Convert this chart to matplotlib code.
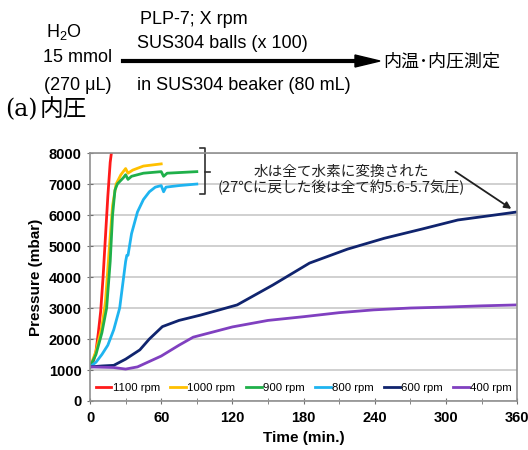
import matplotlib.pyplot as plt
import numpy as np

plt.rcParams['font.family'] = ['Liberation Sans', 'Noto Sans CJK JP', 'DejaVu Sans']
plt.rcParams['mathtext.fontset'] = 'custom'
plt.rcParams['mathtext.rm'] = 'Liberation Sans'

# series (time in min, pressure in mbar)
t_1100 = [0, 3, 5, 7, 9, 11, 13, 15, 17, 18]
p_1100 = [1100, 1300, 1600, 2200, 2900, 4000, 5300, 6600, 7700, 8000]

t_1000 = [0, 5, 10, 13, 16, 19, 22, 26, 30, 32, 36, 45, 60]
p_1000 = [1100, 1600, 2400, 3200, 4800, 6300, 7000, 7300, 7500, 7350, 7450, 7580, 7650]

t_900 = [0, 5, 10, 14, 17, 19, 21, 23, 28, 30, 32, 35, 45, 60, 62, 65, 90]
p_900 = [1100, 1500, 2200, 3000, 4500, 6000, 6800, 7000, 7200, 7300, 7150, 7250, 7350, 7400, 7250, 7350, 7400]

t_800 = [0, 5, 10, 15, 20, 25, 28, 30, 31, 32, 35, 40, 45, 50, 55, 60, 62, 64, 75, 90]
p_800 = [1100, 1250, 1500, 1800, 2300, 3000, 3900, 4500, 4700, 4700, 5400, 6100, 6500, 6750, 6900, 6950, 6750, 6900, 6950, 7000]

t_600 = [0, 10, 20, 30, 42, 50, 61, 75, 93, 110, 124, 154, 185, 217, 248, 280, 310, 341, 360]
p_600 = [1100, 1130, 1150, 1350, 1650, 2000, 2400, 2600, 2770, 2950, 3100, 3740, 4450, 4900, 5250, 5550, 5840, 6000, 6100]

t_400 = [0, 20, 30, 40, 60, 75, 87, 120, 150, 180, 210, 239, 270, 300, 330, 360]
p_400 = [1100, 1080, 1030, 1100, 1450, 1800, 2060, 2390, 2600, 2720, 2850, 2940, 3000, 3030, 3070, 3100]

labels = ['1100 rpm', '1000 rpm', '900 rpm', '800 rpm', '600 rpm', '400 rpm']
colors = ['#ff1a1a', '#ffc000', '#1fb04a', '#1eb4f0', '#10246e', '#8040c0']
series = [(t_1100, p_1100), (t_1000, p_1000), (t_900, p_900),
          (t_800, p_800), (t_600, p_600), (t_400, p_400)]

fig = plt.figure(figsize=(5.28, 4.5), dpi=100)
ax = fig.add_axes([0.1705, 0.1089, 0.809, 0.551])

for (t, p), lab, col in zip(series, labels, colors):
    ax.plot(t, p, color=col, lw=2, label=lab)

ax.set_xlim(0, 360)
ax.set_ylim(0, 8000)
ax.set_xticks(np.arange(0, 361, 60))
ax.set_xticks(np.arange(30, 360, 60), minor=True)
ax.set_yticks(np.arange(0, 8001, 1000))
ax.yaxis.grid(True, color='#c8c8c8', lw=1.2)
ax.set_axisbelow(True)
for s in ax.spines.values():
    s.set_color('#909090')
    s.set_linewidth(1.2)
ax.tick_params(axis='both', which='both', color='#707070', direction='inout', length=5)
ax.tick_params(axis='both', labelsize=10.5)
ax.tick_params(axis='x', pad=5)
for lab in ax.get_xticklabels() + ax.get_yticklabels():
    lab.set_fontweight('bold')
ax.set_xlabel('Time (min.)', fontsize=11, fontweight='bold', labelpad=4)
ax.set_ylabel('Pressure (mbar)', fontsize=11, fontweight='bold', labelpad=4)

ax.legend(loc='lower center', bbox_to_anchor=(0.5, 0.0), ncol=6, frameon=False,
          fontsize=8.2, handlelength=1.4, handletextpad=0.1, columnspacing=0.9,
          borderaxespad=0.3)

# bracket next to the plateaus
ax.plot([92.7, 97, 97, 92.7], [8160, 8160, 6680, 6680], color='#303030', lw=1.2, clip_on=False)
ax.plot([97, 101], [7390, 7390], color='#303030', lw=1.2, clip_on=False)

ax.text(212, 7400, '水は全て水素に変換された', ha='center', va='center', fontsize=10.5,
        family=['Noto Sans CJK JP'], color='#202020')
ax.text(212, 6880, '(27℃に戻した後は全て約5.6-5.7気圧)', ha='center', va='center', fontsize=10.5,
        family=['Noto Sans CJK JP', 'DejaVu Sans'], color='#202020')
ax.annotate('', xy=(357, 6150), xytext=(306, 7450),
            arrowprops=dict(arrowstyle='-|>', color='#202020', lw=1.3, mutation_scale=10))

# reaction scheme header
fig.text(64 / 528, 1 - 32 / 450, r'H$_\mathregular{2}$O', ha='center', va='center', fontsize=13)
fig.text(78 / 528, 1 - 58 / 450, '15 mmol', ha='center', va='center', fontsize=13)
fig.text(78 / 528, 1 - 86 / 450, '(270 μL)', ha='center', va='center', fontsize=13)
fig.text(140 / 528, 1 - 20 / 450, 'PLP-7; X rpm', ha='left', va='center', fontsize=13)
fig.text(137 / 528, 1 - 43 / 450, 'SUS304 balls (x 100)', ha='left', va='center', fontsize=13)
fig.text(137 / 528, 1 - 85 / 450, 'in SUS304 beaker (80 mL)', ha='left', va='center', fontsize=13)
fig.add_artist(plt.Line2D([123 / 528, 360 / 528], [1 - 61 / 450, 1 - 61 / 450], color='black', lw=3))
fig.patches.append(plt.Polygon([[355 / 528, 1 - 55 / 450], [380 / 528, 1 - 61 / 450], [355 / 528, 1 - 67 / 450]],
                               closed=True, color='black', transform=fig.transFigure))
fig.text(383 / 528, 1 - 61 / 450, '内温･内圧測定', ha='left', va='center', fontsize=13,
         family=['Noto Sans CJK JP', 'DejaVu Sans'])
fig.text(5 / 528, 1 - 110 / 450, '(a)', ha='left', va='center', fontsize=17, family=['DejaVu Serif'])
fig.text(40 / 528, 1 - 110 / 450, '内圧', ha='left', va='center', fontsize=17, family=['Noto Sans CJK JP'])

fig.savefig('out.png', dpi=100)
